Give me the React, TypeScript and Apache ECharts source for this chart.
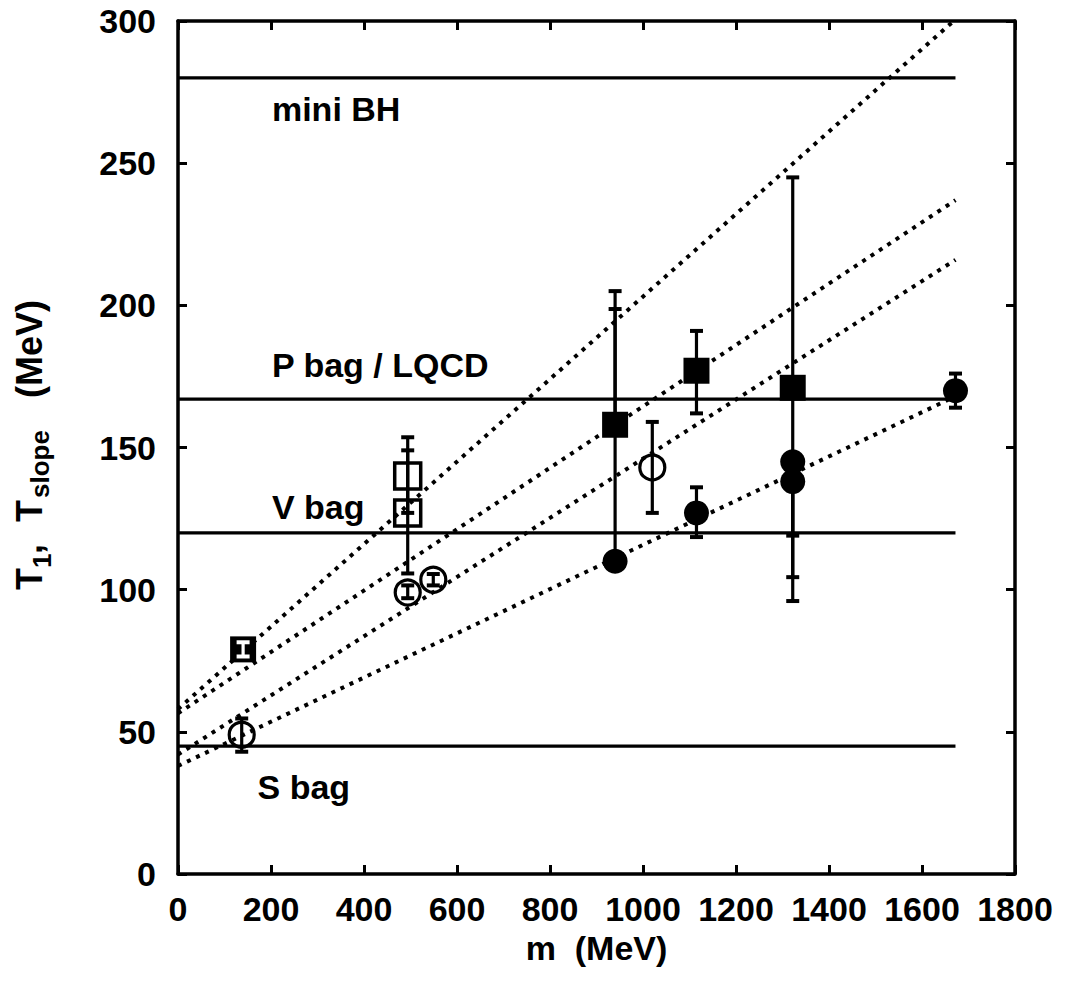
import React, { useEffect, useRef } from "react";
import * as echarts from "echarts";

// axis ranges
const xMin = 0, xMax = 1800, xStep = 200;
const yMin = 0, yMax = 300, yStep = 50;

// horizontal model levels (MeV) and their right end (MeV)
const bagLevels = [280, 167, 120, 45];
const bagEndM = 1672;
// labels: [m, T, text]
const bagLabels: [number, number, string][] = [
  [202, 269, "mini BH"],
  [202, 179, "P bag / LQCD"],
  [202, 129, "V bag"],
  [171, 30.6, "S bag"],
];

// dotted fit lines: [m0, T0, m1, T1]
const fitLines: number[][] = [
  [0, 58, 1668, 300],
  [0, 56.5, 1672, 237],
  [0, 42, 1672, 216],
  [0, 38, 1672, 168],
];

// points: [m, T, low, high]
const filledSquares: number[][] = [
  [140, 79, 79, 79],
  [940, 158, 158, 205],
  [1115, 177, 162, 191],
  [1322, 171, 96, 245],
];
const filledCircles: number[][] = [
  [940, 110, 110, 198.7],
  [1115, 127, 118.5, 136],
  [1322, 145, 104.4, 145],
  [1322, 138, 119, 138],
  [1672, 170, 164, 176],
];
const openCircles: number[][] = [
  [137, 49, 43, 54.7],
  [1020, 143, 127, 159],
  [494, 99, 97, 101.5],
  [549, 103.5, 101.5, 105.5],
];
const openSquares: number[][] = [
  [494, 140, 127, 153.6],
  [494, 127, 105.7, 149],
];
const whiteBars: number[][] = [[140, 79, 76.5, 81.5]];

const FONT = "'Liberation Sans', Arial, Helvetica, sans-serif";

function errRender(color: string) {
  return (params: any, api: any) => {
    const x = api.value(0);
    const lo = api.value(2);
    const hi = api.value(3);
    const pLo = api.coord([x, lo]);
    const pHi = api.coord([x, hi]);
    const hw = 6.5;
    const style = { stroke: color, lineWidth: 3.2 };
    const children: any[] = [];
    if (hi !== lo) {
      children.push({ type: "line", shape: { x1: pLo[0], y1: pLo[1], x2: pHi[0], y2: pHi[1] }, style });
      children.push({ type: "line", shape: { x1: pLo[0] - hw, y1: pLo[1], x2: pLo[0] + hw, y2: pLo[1] }, style: { ...style, lineWidth: 4 } });
      children.push({ type: "line", shape: { x1: pHi[0] - hw, y1: pHi[1], x2: pHi[0] + hw, y2: pHi[1] }, style: { ...style, lineWidth: 4 } });
    }
    return { type: "group", children };
  };
}

function errSeries(data: number[][], color = "#000"): any {
  return {
    type: "custom",
    renderItem: errRender(color),
    data,
    encode: { x: 0, y: [1, 2, 3] },
    silent: true,
    z: 3,
  };
}

export default function App() {
  const ref = useRef<HTMLDivElement>(null);
  useEffect(() => {
    if (!ref.current) return;
    const chart = echarts.init(ref.current, null, { renderer: "svg" });

    const axisCommon = {
      min: xMin,
      max: xMax,
      interval: xStep,
      axisLine: { show: true, onZero: false, lineStyle: { color: "#000", width: 3.5 } },
      axisTick: { show: true, inside: true, length: 9, lineStyle: { color: "#000", width: 3 } },
      splitLine: { show: false },
    };
    const yCommon = {
      min: yMin,
      max: yMax,
      interval: yStep,
      axisLine: { show: true, onZero: false, lineStyle: { color: "#000", width: 3.5 } },
      axisTick: { show: true, inside: true, length: 9, lineStyle: { color: "#000", width: 3 } },
      splitLine: { show: false },
    };

    const series: any[] = [];
    bagLevels.forEach((t) => {
      series.push({
        type: "line",
        data: [[0, t], [bagEndM, t]],
        showSymbol: false,
        lineStyle: { color: "#000", width: 3.2 },
        silent: true,
        z: 2,
      });
    });
    fitLines.forEach((l) => {
      series.push({
        type: "line",
        data: [[l[0], l[1]], [l[2], l[3]]],
        showSymbol: false,
        lineStyle: { color: "#000", width: 4, type: [4, 6] },
        silent: true,
        z: 2,
      });
    });
    series.push(errSeries(filledSquares));
    series.push(errSeries(filledCircles));
    series.push(errSeries(openCircles));
    series.push(errSeries(openSquares));
    series.push({
      type: "scatter",
      data: filledSquares.map((d) => [d[0], d[1]]),
      symbol: "rect",
      symbolSize: 26,
      itemStyle: { color: "#000", opacity: 1 },
      silent: true,
      z: 4,
    });
    series.push({
      type: "scatter",
      data: filledCircles.map((d) => [d[0], d[1]]),
      symbol: "circle",
      symbolSize: 25,
      itemStyle: { color: "#000", opacity: 1 },
      silent: true,
      z: 4,
    });
    series.push({
      type: "scatter",
      data: openCircles.map((d) => [d[0], d[1]]),
      symbol: "circle",
      symbolSize: 25,
      itemStyle: { color: "rgba(0,0,0,0)", borderColor: "#000", borderWidth: 3.2, opacity: 1 },
      silent: true,
      z: 4,
    });
    series.push({
      type: "scatter",
      data: openSquares.map((d) => [d[0], d[1]]),
      symbol: "rect",
      symbolSize: 26,
      itemStyle: { color: "rgba(0,0,0,0)", borderColor: "#000", borderWidth: 3.5, opacity: 1 },
      silent: true,
      z: 4,
    });
    series.push({ ...errSeries(whiteBars, "#fff"), z: 5 });
    series.push({
      type: "scatter",
      data: bagLabels.map((b) => ({ value: [b[0], b[1]], name: b[2] })),
      symbolSize: 0,
      silent: true,
      itemStyle: { opacity: 1, color: "#000" },
      label: {
        show: true,
        position: "right",
        distance: 0,
        formatter: (p: any) => p.name,
        color: "#000",
        opacity: 1,
        fontSize: 34,
        fontWeight: "bold",
        fontFamily: FONT,
      },
      z: 6,
    });

    const yNameX = 0;
    const yNameY = 590;
    const mainStyle = { fill: "#000", fontSize: 36, fontWeight: "bold", fontFamily: FONT, verticalAlign: "middle", align: "left" };
    const subStyle = { fill: "#000", fontSize: 26, fontWeight: "bold", fontFamily: FONT, verticalAlign: "middle", align: "left" };

    chart.setOption({
      animation: false,
      backgroundColor: "#fff",
      grid: { left: 178, right: 50, top: 21, bottom: 111, containLabel: false },
      xAxis: [
        {
          type: "value",
          position: "bottom",
          ...axisCommon,
          axisLabel: {
            show: true,
            color: "#000",
            fontSize: 34,
            fontWeight: "bold",
            fontFamily: FONT,
            margin: 18,
            formatter: (v: number) => String(v),
          },
          name: "m  (MeV)",
          nameLocation: "middle",
          nameGap: 49,
          nameTextStyle: { color: "#000", fontSize: 34, fontWeight: "bold", fontFamily: FONT },
        },
        {
          type: "value",
          position: "top",
          ...axisCommon,
          axisLabel: { show: false },
        },
      ],
      yAxis: [
        {
          type: "value",
          position: "left",
          ...yCommon,
          axisLabel: {
            show: true,
            color: "#000",
            fontSize: 34,
            fontWeight: "bold",
            fontFamily: FONT,
            margin: 22,
            formatter: (v: number) => String(v),
          },
        },
        {
          type: "value",
          position: "right",
          ...yCommon,
          axisLabel: { show: false },
        },
      ],
      graphic: [
        {
          type: "group",
          x: yNameX,
          y: yNameY,
          rotation: Math.PI / 2,
          silent: true,
          children: [
            { type: "text", x: 0, y: 29, style: { ...mainStyle, text: "T" } },
            { type: "text", x: 22, y: 42, style: { ...subStyle, text: "1" } },
            { type: "text", x: 36, y: 29, style: { ...mainStyle, text: "," } },
            { type: "text", x: 68, y: 29, style: { ...mainStyle, text: "T" } },
            { type: "text", x: 92, y: 40, style: { ...subStyle, text: "slope" } },
            { type: "text", x: 192, y: 29, style: { ...mainStyle, text: "(MeV)" } },
          ],
        },
      ],
      series,
    });
    return () => chart.dispose();
  }, []);
  return (
    <div
      ref={ref}
      style={{ position: "absolute", left: 0, top: 0, width: 1065, height: 985, background: "#fff" }}
    />
  );
}
